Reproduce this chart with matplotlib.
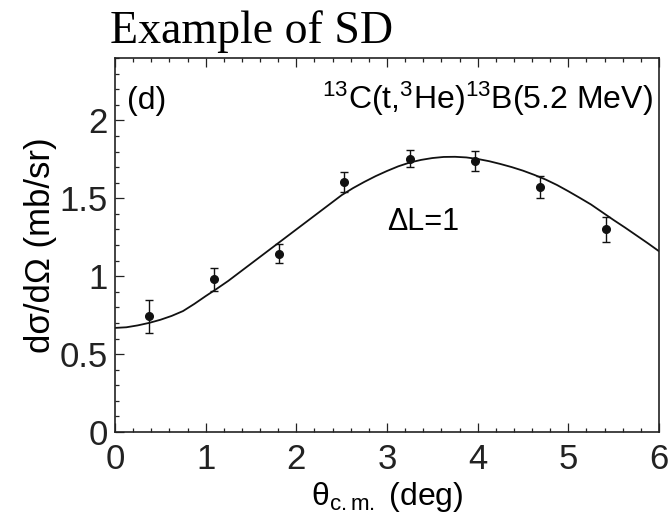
import numpy as np
import matplotlib
matplotlib.use("Agg")
import matplotlib.pyplot as plt
from matplotlib.ticker import MultipleLocator, FuncFormatter

plt.rcParams['font.family'] = ['Liberation Sans', 'DejaVu Sans']
plt.rcParams['mathtext.fontset'] = 'custom'
plt.rcParams['mathtext.rm'] = 'Liberation Sans'
plt.rcParams['mathtext.it'] = 'Liberation Sans:italic'

# measured points
theta = [0.37, 1.09, 1.81, 2.53, 3.25, 3.97, 4.69, 5.41]
xsec = [0.743, 0.979, 1.145, 1.603, 1.755, 1.737, 1.570, 1.300]
xsec_err = [0.107, 0.075, 0.062, 0.063, 0.055, 0.064, 0.070, 0.081]

# DWBA curve (dL=1)
curve_theta = [0.0, 0.125, 0.25, 0.375, 0.5, 0.625, 0.75, 0.875, 1.0, 1.125,
               1.25, 1.375, 1.5, 1.625, 1.75, 1.875, 2.0, 2.125, 2.25, 2.375,
               2.5, 2.625, 2.75, 2.875, 3.0, 3.125, 3.25, 3.375, 3.5, 3.625,
               3.75, 3.875, 4.0, 4.125, 4.25, 4.375, 4.5, 4.625, 4.75, 4.875,
               5.0, 5.125, 5.25, 5.375, 5.5, 5.625, 5.75, 5.875, 6.0]
curve_xsec = [0.668, 0.672, 0.684, 0.70, 0.72, 0.745, 0.776, 0.822, 0.872, 0.92,
              0.97, 1.025, 1.08, 1.135, 1.19, 1.245, 1.30, 1.355, 1.41, 1.465,
              1.52, 1.565, 1.605, 1.642, 1.675, 1.705, 1.729, 1.746, 1.758, 1.765,
              1.766, 1.762, 1.752, 1.738, 1.72, 1.70, 1.677, 1.65, 1.62, 1.585,
              1.545, 1.503, 1.46, 1.41, 1.36, 1.312, 1.262, 1.212, 1.16]

fig = plt.figure(figsize=(6.68, 5.2), dpi=100)
ax = fig.add_axes([115/668, 88/520, 544/668, 374/520])

ax.plot(curve_theta, curve_xsec, color='#111111', lw=1.3)
ax.errorbar(theta, xsec, yerr=xsec_err, fmt='o', color='#111111',
            ms=5.5, capsize=3, elinewidth=1.0, capthick=1.0)

ax.set_xlim(0, 6)
ax.set_ylim(0, 2.4)
ax.xaxis.set_major_locator(MultipleLocator(1))
ax.xaxis.set_minor_locator(MultipleLocator(0.2))
ax.yaxis.set_major_locator(MultipleLocator(0.5))
ax.yaxis.set_minor_locator(MultipleLocator(0.1))
ax.yaxis.set_major_formatter(FuncFormatter(lambda v, p: '%g' % v))
ax.tick_params(which='both', direction='in', top=True, right=False,
               labelsize=25, width=0.9, colors='#222222')
ax.tick_params(axis='x', pad=8)
ax.tick_params(axis='y', pad=5)
ax.tick_params(which='major', length=6.5)
ax.tick_params(which='minor', length=3.2)
for s in ax.spines.values():
    s.set_linewidth(1.2)
    s.set_color('#222222')

ax.set_xlabel('θ$_{\\rm c.m.}$ (deg)', fontsize=23, labelpad=3)
ax.set_ylabel('dσ/dΩ (mb/sr)', fontsize=25, labelpad=2)

ax.text(0.13, 2.07, '(d)', fontsize=23, va='baseline')
ax.text(5.93, 2.07, '$^{13}$C(t,$^{3}$He)$^{13}$B(5.2 MeV)', fontsize=23,
        ha='right', va='baseline')
ax.text(3.0, 1.295, 'ΔL=1', fontsize=22, va='baseline')

fig.text(110/668, 1 - 43/520, 'Example of SD', family='Liberation Serif',
         fontsize=33, va='baseline')

fig.savefig('out.png', dpi=100)
